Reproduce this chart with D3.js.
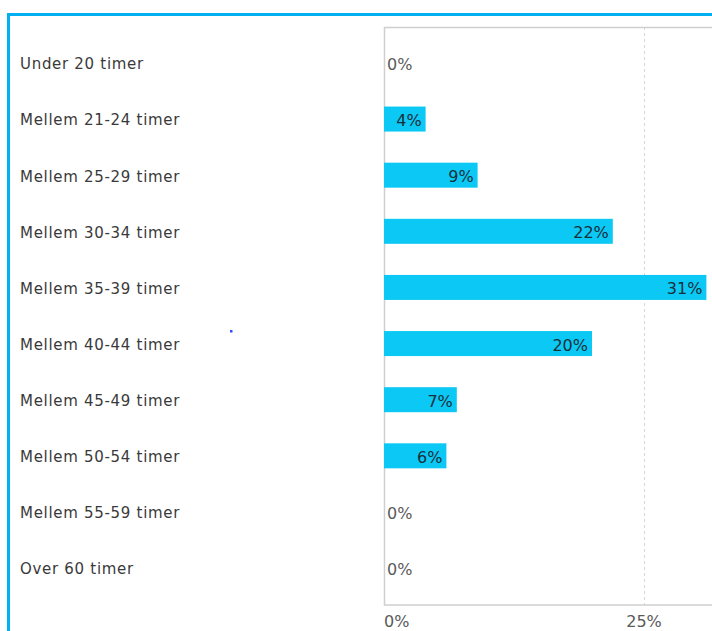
<!DOCTYPE html>
<html><head><meta charset="utf-8">
<script src="https://cdn.jsdelivr.net/npm/d3@7"></script>
<style>
html,body{margin:0;padding:0;background:#fff;overflow:hidden}
svg{display:block;font-family:"DejaVu Sans",Verdana,sans-serif}
</style></head>
<body>
<svg id="c" width="712" height="631"></svg>
<script>
const categories = ["Under 20 timer","Mellem 21-24 timer","Mellem 25-29 timer","Mellem 30-34 timer","Mellem 35-39 timer","Mellem 40-44 timer","Mellem 45-49 timer","Mellem 50-54 timer","Mellem 55-59 timer","Over 60 timer"];
const values = [0,4,9,22,31,20,7,6,0,0];
const xTicks = [0,25];

const svg = d3.select("#c");
// outer frame
svg.append("rect").attr("x",8.5).attr("y",14.5).attr("width",760).attr("height",700)
  .attr("fill","none").attr("stroke","#00b0f0").attr("stroke-width",3);

const x = d3.scaleLinear().domain([0,25]).range([384,644]);
const y = d3.scalePoint().domain(categories).range([27,604]).padding(0.64);
const plotTop = 27, plotBottom = 604.5;

// gridlines
svg.append("g").selectAll("line").data(xTicks.filter(d=>d>0)).join("line")
  .attr("x1",d=>x(d)+0.5).attr("x2",d=>x(d)+0.5).attr("y1",plotTop).attr("y2",plotBottom)
  .attr("stroke","#d6d6d6").attr("stroke-dasharray","3,3");

// plot frame
svg.append("rect").attr("x",384.5).attr("y",plotTop+0.5).attr("width",600).attr("height",plotBottom-plotTop)
  .attr("fill","none").attr("stroke","#cfcfcf").attr("stroke-width",1.5);

// bars
const bh = 25;
svg.append("g").selectAll("rect").data(values).join("rect")
  .attr("x",x(0)).attr("y",(d,i)=>y(categories[i])-bh/2)
  .attr("width",d=>x(d)-x(0)).attr("height",bh).attr("fill","#0cc8f4");

// value labels
svg.append("g").selectAll("text").data(values).join("text")
  .attr("x",d=>d>0 ? x(d)-4 : x(0)+3)
  .attr("y",(d,i)=>y(categories[i])+1.2)
  .attr("dy","0.36em")
  .attr("text-anchor",d=>d>0?"end":"start")
  .attr("font-size",16)
  .attr("fill",d=>d>0?"#17303a":"#5a5a5a")
  .text(d=>d+"%");

// category labels
svg.append("g").selectAll("text").data(categories).join("text")
  .attr("x",20).attr("y",d=>y(d)+1).attr("dy","0.36em")
  .attr("font-size",15).attr("letter-spacing",0.7).attr("fill","#3a3a3a").text(d=>d);

// x axis tick labels
svg.append("g").selectAll("text").data(xTicks).join("text")
  .attr("x",d=>x(d)).attr("y",621.7).attr("dy","0.36em")
  .attr("text-anchor",d=>d===0?"start":"middle")
  .attr("font-size",16).attr("fill","#5a5a5a").text(d=>d+"%");

// stray dot
svg.append("rect").attr("x",230).attr("y",330).attr("width",2.5).attr("height",2.5).attr("fill","#2f4dff");
</script>
</body></html>
